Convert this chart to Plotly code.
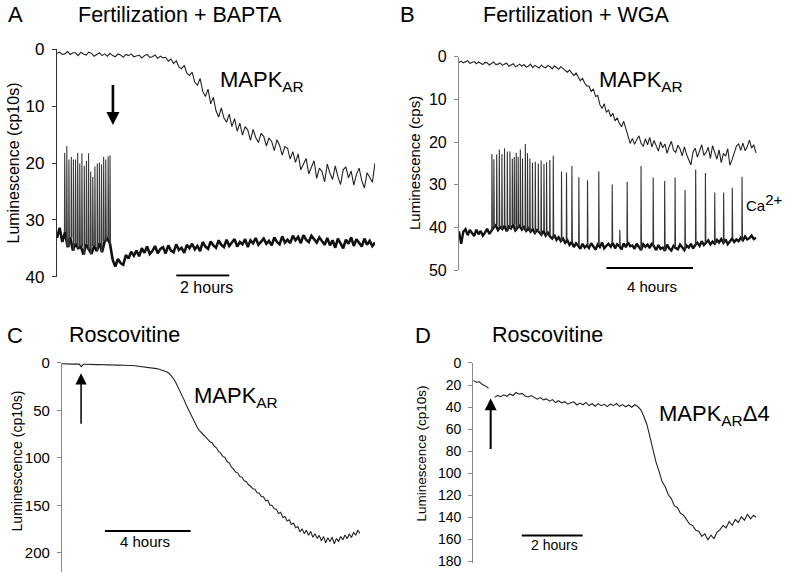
import numpy as np
import plotly.graph_objects as go

W, H = 793, 582
FONT = "Arial, Liberation Sans, sans-serif"

# ---------------- Panel A : Fertilization + BAPTA (sampled every 0.1 h) ----------------
a_mapk = [
    0.7, 0.5, 0.9, 0.8, 0.4, 0.9, 0.6, 0.6, 1.1, 0.5,
    0.8, 1.0, 0.5, 0.7, 1.2, 0.9, 0.6, 1.1, 0.8, 1.2,
    0.7, 1.1, 1.3, 0.8, 1.0, 1.4, 0.9, 1.1, 0.8, 1.3,
    1.2, 1.0, 1.5, 1.1, 0.9, 1.4, 1.3, 1.0, 1.6, 1.2,
    1.5, 1.4, 2.1, 1.7, 2.5, 2.0, 3.1, 3.4, 2.8, 4.2,
    4.6, 4.0, 5.8, 6.3, 5.1, 7.4, 8.3, 7.0, 9.6, 8.4,
    10.8, 11.9, 10.3, 12.1, 12.8, 11.4, 13.6, 12.2, 14.4, 13.0,
    15.1, 13.6, 14.2, 16.0, 14.1, 15.5, 16.4, 14.8, 15.3, 17.0,
    15.6, 16.2, 17.8, 15.9, 16.9, 18.6, 17.1, 17.4, 19.3, 18.0,
    19.9, 18.4, 21.2, 20.3, 19.2, 21.9, 20.8, 19.6, 22.7, 20.9,
    21.5, 23.3, 20.2, 21.8, 22.9, 20.5, 22.4, 23.8, 21.2, 20.7,
    22.6, 21.4, 23.9, 22.0, 20.9, 23.1, 24.4, 21.7, 22.5, 23.4,
    20.0,
]
a_ca = [
    33.2, 31.4, 33.9, 32.2, 34.8, 33.1, 35.4, 34.2, 35.0, 34.7,
    36.1, 34.3, 35.2, 36.0, 34.6, 35.5, 34.1, 35.7, 33.8, 33.3,
    34.2, 37.0, 38.2, 36.9, 37.6, 37.9, 36.2, 36.8, 35.6, 36.3,
    35.4, 36.4, 35.0, 35.8, 34.7, 36.0, 35.5, 34.6, 35.9, 35.1,
    34.8, 35.9, 34.5, 35.4, 35.7, 34.3, 35.3, 34.9, 35.8, 34.4,
    35.0, 34.2, 35.2, 34.6, 35.5, 33.9, 34.7, 35.1, 33.8, 34.5,
    34.9, 33.6, 34.4, 34.8, 33.5, 34.6, 34.0, 33.4, 34.7, 33.9,
    34.3, 33.4, 34.8, 33.6, 34.1, 33.2, 34.4, 33.9, 33.3, 34.2,
    33.7, 34.5, 33.1, 33.9, 34.3, 32.9, 34.0, 33.5, 34.1, 32.8,
    33.6, 33.0, 34.1, 32.7, 33.5, 33.9, 32.8, 33.4, 34.0, 33.1,
    33.8, 34.4, 33.2, 34.5, 33.6, 34.9, 33.3, 34.1, 35.0, 33.5,
    34.2, 33.1, 34.6, 33.4, 34.0, 34.7, 33.3, 34.4, 33.7, 34.6,
    34.0,
]
a_spike_t = [0.29, 0.37, 0.45, 0.54, 0.62, 0.70, 0.78, 0.86, 0.94, 1.03, 1.11,
             1.19, 1.27, 1.35, 1.43, 1.52, 1.60, 1.68, 1.76, 1.84, 1.93, 2.00]
a_spike_peak = [18.2, 17.0, 19.4, 18.9, 19.4, 19.4, 18.2, 20.1, 18.3, 20.5, 19.6,
                18.3, 21.5, 22.4, 20.6, 20.1, 19.9, 20.2, 18.9, 19.4, 18.8, 18.7]

# ---------------- Panel B : Fertilization + WGA ----------------
b_mapk = [
    1.3, 1.0, 1.4, 1.2, 0.9, 1.5, 1.3, 1.1, 1.6, 1.2,
    1.5, 1.8, 1.3, 1.4, 1.9, 1.6, 1.2, 1.8, 1.7, 1.4,
    2.0, 1.7, 1.5, 2.2, 1.9, 1.6, 2.3, 2.1, 1.7, 2.2,
    1.8, 2.4, 2.2, 1.7, 2.5, 2.0, 2.3, 2.6, 1.9, 2.4,
    2.6, 2.0, 2.3, 2.8, 2.1, 2.5, 2.9, 2.3, 2.7, 3.1,
    3.6, 3.1, 3.9, 4.4, 3.8, 4.9, 5.6, 5.0, 6.2, 6.8,
    6.9, 8.1, 7.5, 9.3, 9.0, 11.2, 12.1, 11.0, 13.0, 12.4,
    14.0, 13.2, 15.0, 14.3, 15.6, 16.4, 15.1, 16.9, 18.6, 20.3,
    19.1, 20.5, 19.4, 18.5, 20.2, 21.0, 19.2, 20.6, 18.9, 21.1,
    19.6, 20.8, 22.1, 19.9, 21.3, 20.4, 22.6, 21.0, 19.8, 21.9,
    22.4, 20.7, 21.6, 23.2, 21.1, 22.9, 24.0, 25.3, 22.3, 21.4,
    23.5, 22.0, 20.6, 23.1, 22.4, 21.2, 23.8, 20.8, 22.7, 24.0,
    21.8, 24.8, 22.6, 23.3, 21.5, 25.4, 24.1, 22.3, 20.9, 20.4,
    21.9, 20.2, 22.0, 21.1, 19.5, 21.4, 20.6, 22.5,
]
b_ca = [
    40.9, 43.8, 41.0, 40.4, 41.8, 40.6, 41.3, 42.0, 40.5, 41.6,
    40.8, 41.9, 41.2, 40.3, 41.5, 40.7, 40.0, 39.5, 40.6, 39.9,
    40.4, 39.6, 40.9, 39.8, 40.2, 39.3, 40.7, 40.1, 39.6, 40.5,
    39.9, 40.8, 40.2, 41.0, 40.4, 41.3, 40.6, 41.1, 41.7, 40.8,
    41.9, 41.2, 42.1, 42.6, 41.7, 42.9, 42.3, 43.2, 42.6, 43.6,
    43.0, 44.1, 43.4, 44.6, 43.7, 44.3, 45.0, 43.8, 44.7, 44.2,
    44.8, 43.7, 44.5, 45.2, 44.0, 44.6, 43.5, 44.9, 44.3, 43.8,
    44.5, 43.6, 44.9, 43.9, 44.4, 45.1, 43.7, 44.6, 43.5, 44.4,
    44.2, 45.0, 43.8, 44.7, 45.3, 43.9, 44.5, 44.0, 44.8, 43.6,
    44.4, 45.3, 44.1, 45.0, 44.7, 45.5, 44.0, 44.9, 45.4, 44.3,
    44.8, 45.1, 44.0, 44.6, 45.3, 44.2, 44.7, 43.8, 44.9, 44.1,
    43.6, 44.3, 43.2, 44.1, 43.5, 43.0, 44.0, 43.3, 43.8, 42.9,
    43.5, 42.7, 43.6, 42.8, 43.9, 43.1, 42.6, 43.4, 42.8, 43.2,
    42.4, 43.0, 42.1, 42.8, 42.5, 41.9, 42.7, 42.4,
]
b_spike_t = [1.52, 1.61, 1.74, 1.86, 1.98, 2.10, 2.23, 2.35, 2.46, 2.55, 2.64, 2.73,
             2.83, 2.93, 3.06, 3.16, 3.27, 3.39, 3.52, 3.66, 3.79, 3.92, 4.04, 4.19,
             4.35, 4.73, 4.96, 5.21, 5.53, 5.93, 6.45, 7.07, 7.42, 7.76, 8.40, 8.96,
             9.49, 9.97, 10.43, 10.92, 11.37, 11.80, 12.21, 12.61, 13.06]
b_spike_peak = [22.8, 24.0, 22.9, 21.7, 22.8, 21.4, 22.2, 22.2, 23.8, 23.5, 22.5, 23.4,
                21.7, 23.8, 20.4, 22.6, 23.8, 24.8, 24.6, 25.0, 24.3, 25.1, 24.7, 24.2,
                23.2, 26.9, 27.1, 25.6, 28.2, 28.9, 26.9, 29.9, 40.6, 29.3, 25.6, 28.3,
                29.1, 28.3, 31.2, 26.4, 27.2, 31.8, 31.8, 30.7, 28.1]

# ---------------- Panel C : Roscovitine, MAPK_AR ----------------
c_mapk = [
    0.8, 1.0, 0.9, 1.1, 1.0, 1.2, 1.1, 1.3, 1.2, 3.8,
    1.4, 1.3, 1.5, 1.4, 1.6, 1.5, 1.7, 1.6, 1.8, 1.7,
    1.9, 2.0, 1.8, 2.1, 2.0, 2.2, 2.1, 2.3, 2.2, 2.4,
    2.5, 2.4, 2.7, 2.6, 2.9, 3.0, 3.2, 3.3, 3.6, 3.8,
    4.1, 4.4, 4.8, 5.3, 5.9, 6.4, 7.1, 7.8, 8.6, 9.5,
    11.0, 13.2, 16.4, 20.3, 24.7, 28.9, 34.0, 39.1, 44.6, 49.2,
    53.4, 58.5, 63.7, 67.5, 70.9, 72.8, 75.6, 77.9, 80.4, 83.1,
    84.0, 87.5, 89.3, 93.1, 95.0, 98.4, 99.6, 103.8, 105.2, 109.6,
    111.8, 114.9, 116.0, 119.7, 120.5, 124.2, 125.1, 128.3, 129.9, 132.6,
    133.1, 136.8, 137.2, 140.9, 141.0, 145.3, 144.6, 149.8, 150.2, 153.7,
    154.1, 158.6, 157.4, 162.9, 161.8, 166.4, 165.2, 170.1, 168.7, 173.5,
    172.3, 177.9, 174.6, 179.8, 176.2, 181.5, 177.4, 183.6, 179.9, 184.8,
    181.6, 187.3, 182.9, 189.4, 184.2, 188.1, 183.5, 190.6, 185.0, 187.9,
    182.8, 186.4, 181.3, 185.2, 180.1, 183.9, 178.6, 181.2, 176.4, 179.5,
]

# ---------------- Panel D : Roscovitine, MAPK_AR delta4 ----------------
d_mapk = [
    15.8, 17.5, 17.0, 19.6, 20.8, 22.9, None, 31.2, 29.4, 30.6,
    28.9, 30.2, 28.1, 29.5, 26.8, 28.4, 27.6, 29.9, 30.8, 29.6,
    31.5, 32.8, 31.4, 33.5, 32.6, 34.7, 33.2, 35.9, 34.3, 36.2,
    35.1, 37.4, 36.0, 35.2, 38.1, 36.4, 37.9, 35.8, 38.6, 37.0,
    39.2, 36.9, 38.8, 37.5, 39.6, 37.2, 38.7, 36.8, 39.3, 37.8,
    39.7, 38.1, 40.2, 37.9, 39.5, 42.5, 48.6, 56.0, 67.4, 79.0,
    90.2, 98.6, 107.9, 112.4, 119.6, 123.1, 129.8, 131.2, 136.4, 138.1,
    142.6, 146.3, 147.5, 151.9, 152.7, 157.4, 155.1, 160.6, 156.2, 159.4,
    153.8, 151.2, 147.5, 149.6, 143.9, 147.3, 142.1, 144.8, 139.6, 142.7,
    137.4, 141.5, 138.2, 140.6,
]

DT = 0.1  # hours between samples


def times(vals):
    return [round(i * DT, 2) for i in range(len(vals))]


def spike_xy(base, ts, peaks):
    tb = np.array(times(base))
    xs, ys = [], []
    for t, p in zip(ts, peaks):
        b = base[int(np.argmin(np.abs(tb - t)))]
        xs += [t - 0.01, t, t + 0.02, None]
        ys += [b, p, b, None]
    return xs, ys


# the photographed page shows rows slightly squeezed; map target rows to figure rows
SY, CY = 0.966, 9.2


def ry(y):
    return (y - CY) / SY


def xdom(p0, p1):
    return [p0 / W, p1 / W]


def ydom(top, bot):
    return [max(0.0, 1 - ry(bot) / H), min(1.0, 1 - ry(top) / H)]


def px(x):
    return x / W


def py(y):
    return 1 - ry(y) / H


fig = go.Figure()

# Panel A traces
fig.add_trace(go.Scatter(x=times(a_ca), y=a_ca, mode="lines",
                         line=dict(color="#111", width=2.6), xaxis="x", yaxis="y"))
sx, sy = spike_xy(a_ca, a_spike_t, a_spike_peak)
fig.add_trace(go.Scatter(x=sx, y=sy, mode="lines",
                         line=dict(color="#3a3a3a", width=1.1), xaxis="x", yaxis="y"))
fig.add_trace(go.Scatter(x=times(a_mapk), y=a_mapk, mode="lines",
                         line=dict(color="#222", width=1.1), xaxis="x", yaxis="y"))

# Panel B traces
fig.add_trace(go.Scatter(x=times(b_ca), y=b_ca, mode="lines",
                         line=dict(color="#111", width=2.4), xaxis="x2", yaxis="y2"))
sx, sy = spike_xy(b_ca, b_spike_t, b_spike_peak)
fig.add_trace(go.Scatter(x=sx, y=sy, mode="lines",
                         line=dict(color="#333", width=1.1), xaxis="x2", yaxis="y2"))
fig.add_trace(go.Scatter(x=times(b_mapk), y=b_mapk, mode="lines",
                         line=dict(color="#222", width=1.1), xaxis="x2", yaxis="y2"))

# Panel C / D traces
fig.add_trace(go.Scatter(x=times(c_mapk), y=c_mapk, mode="lines",
                         line=dict(color="#222", width=1.1), xaxis="x3", yaxis="y3"))
fig.add_trace(go.Scatter(x=times(d_mapk), y=d_mapk, mode="lines", connectgaps=False,
                         line=dict(color="#222", width=1.1), xaxis="x4", yaxis="y4"))


def yax(dom, rng, tv, anchor, lc, fs):
    return dict(domain=dom, range=rng, tickvals=tv, anchor=anchor, showline=True,
                linecolor=lc, linewidth=1.2, ticks="outside", ticklen=4, tickcolor=lc,
                ticklabelstandoff=4,
                showgrid=False, zeroline=False, tickfont=dict(size=fs, color="black"))


def xax(dom, rng, anchor):
    return dict(domain=dom, range=rng, anchor=anchor, visible=False)


fig.update_layout(
    width=W, height=H, autosize=False, margin=dict(l=0, r=0, t=0, b=0, pad=0),
    paper_bgcolor="white", plot_bgcolor="white", showlegend=False,
    font=dict(family=FONT, color="black"),
    xaxis=xax(xdom(57, 375), [0, 12], "y"),
    yaxis=yax(ydom(49.5, 276.5), [40, 0], [0, 10, 20, 30, 40], "x", "#333", 17),
    xaxis2=xax(xdom(459, 757), [0, 13.75], "y2"),
    yaxis2=yax(ydom(57, 270), [50, 0], [0, 10, 20, 30, 40, 50], "x2", "#888", 16),
    xaxis3=xax(xdom(62, 360), [0, 13.9], "y3"),
    yaxis3=yax(ydom(362.7, 571.2), [220, 0], [0, 50, 100, 150, 200], "x3", "#888", 15),
    xaxis4=xax(xdom(473.3, 756), [0, 9.28], "y4"),
    yaxis4=yax(ydom(362.7, 562.9), [182, 0], list(range(0, 181, 20)), "x4", "#888", 14),
)

ann = []


def ptext(text, x, y, size, xanchor="left", angle=0):
    ann.append(dict(text=text, x=px(x), y=py(y), xref="paper", yref="paper",
                    xanchor=xanchor, yanchor="middle", showarrow=False,
                    textangle=angle, font=dict(size=size, family=FONT, color="black")))


# panel letters and titles
ptext("A", 15, 15, 22, "center")
ptext("Fertilization + BAPTA", 76, 15, 21.5)
ptext("B", 407, 15, 22, "center")
ptext("Fertilization + WGA", 481, 15, 21.5)
ptext("C", 15, 335, 22, "center")
ptext("Roscovitine", 67, 335, 21.5)
ptext("D", 423, 335, 22, "center")
ptext("Roscovitine", 490, 335, 21.5)

# y axis titles
ptext("Luminescence (cp10s)", 13.5, 163, 16, "center", -90)
ptext("Luminescence (cps)", 414, 163, 15, "center", -90)
ptext("Luminescence (cp10s)", 17, 461, 14, "center", -90)
ptext("Luminescence (cp10s)", 421, 453, 13.5, "center", -90)

# trace labels
ptext("MAPK<sub>AR</sub>", 218, 81, 22)
ptext("MAPK<sub>AR</sub>", 597, 81, 22)
ptext("MAPK<sub>AR</sub>", 192, 397, 22)
ptext("MAPK<sub>AR</sub>Δ4", 657, 415, 22)
ptext("Ca<sup><span style='font-size:15px'>2+</span></sup>", 744, 202, 15)

# scale-bar labels
ptext("2 hours", 206, 287, 16, "center")
ptext("4 hours", 652, 286, 15, "center")
ptext("4 hours", 145, 541, 15, "center")
ptext("2 hours", 554, 544, 14, "center")

# arrows (data coordinates: time, luminescence)
ann.append(dict(x=2.11, y=13.3, ax=2.11, ay=6.0, xref="x", yref="y", axref="x", ayref="y",
                showarrow=True, arrowhead=2, arrowsize=1.0, arrowwidth=2.6, arrowcolor="black", text=""))
ann.append(dict(x=0.89, y=10.9, ax=0.89, ay=65.7, xref="x3", yref="y3", axref="x3", ayref="y3",
                showarrow=True, arrowhead=2, arrowsize=1.5, arrowwidth=1.5, arrowcolor="black", text=""))
ann.append(dict(x=0.57, y=32.0, ax=0.57, ay=79.4, xref="x4", yref="y4", axref="x4", ayref="y4",
                showarrow=True, arrowhead=2, arrowsize=1.2, arrowwidth=2.0, arrowcolor="black", text=""))

# scale bars
shapes = [
    dict(type="line", xref="x", yref="y", x0=4.5, x1=6.5, y0=39.8, y1=39.8, line=dict(color="black", width=2)),
    dict(type="line", xref="x2", yref="y2", x0=6.8, x1=10.8, y0=49.5, y1=49.5, line=dict(color="black", width=2)),
    dict(type="line", xref="x3", yref="y3", x0=2.0, x1=6.0, y0=177, y1=177, line=dict(color="black", width=2)),
    dict(type="line", xref="x4", yref="y4", x0=1.59, x1=3.59, y0=156.6, y1=156.6, line=dict(color="black", width=2)),
]

fig.update_layout(annotations=ann, shapes=shapes)

page_fix = (
    "var gd=document.getElementById('{plot_id}');"
    "gd.style.position='absolute';gd.style.left='0px';gd.style.top='0px';"
    "var r=document.documentElement.style;r.margin='0';r.padding='0';r.overflow='hidden';"
    "var b=document.body.style;b.margin='0';b.padding='0';b.overflow='hidden';"
)
fig.write_html("out.html", config={"displayModeBar": False}, post_script=page_fix)
